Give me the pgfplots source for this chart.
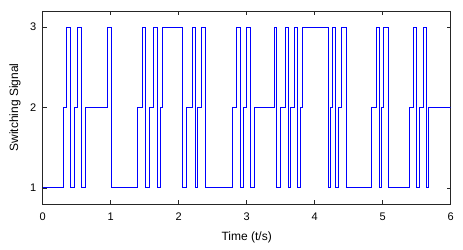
\documentclass[border=0pt]{standalone}
\usepackage{pgfplots}
\pgfplotsset{compat=1.18}
\usepackage{fontspec}
\setmainfont{Liberation Sans}
\begin{document}
\begin{tikzpicture}
\begin{axis}[
  scale only axis,
  width=408pt, height=193pt,
  xmin=0, xmax=6, ymin=0.8, ymax=3.2,
  xtick={0,1,2,3,4,5,6}, ytick={1,2,3},
  tick align=inside,
  tick pos=both,
  major tick length=4pt,
  axis line style={draw=black!85, line width=0.6pt},
  every tick/.style={black!85, line width=0.5pt},
  tick label style={font=\fontsize{11}{13}\selectfont},
  xticklabel style={yshift=-5.5pt},
  yticklabel style={xshift=-3pt},
  label style={font=\fontsize{12}{14}\selectfont},
  /pgf/number format/assume math mode=true,
  xlabel={Time (t/s)},
  ylabel={Switching Signal},
  xlabel style={at={(axis description cs:0.5,-0.171)}, anchor=center},
  ylabel style={at={(axis description cs:-0.0679,0.5)}, anchor=center},
]
\addplot[const plot, blue, line width=0.9pt] coordinates {
(0,1) (0.309,2) (0.353,3) (0.406,1) (0.470,2) (0.514,3) (0.568,1) (0.622,2)
(0.955,3) (1.010,1) (1.397,2) (1.460,3) (1.510,1) (1.563,2) (1.622,3) (1.681,1)
};
\addplot[const plot, blue, line width=0.9pt] coordinates {
(1.681,1) (1.725,2) (1.760,3) (2.059,1) (2.112,2) (2.206,3) (2.245,1) (2.274,2) (2.333,3)
(2.397,1) (2.794,2) (2.853,3) (2.912,1) (2.950,2) (3.000,3) (3.049,1)
};
\addplot[const plot, blue, line width=0.9pt] coordinates {
(3.049,1) (3.107,2)
(3.412,3) (3.435,1) (3.500,2) (3.568,3) (3.607,1) (3.641,2) (3.706,3) (3.744,1)
(3.784,2) (3.824,3) (4.200,1) (4.225,2) (4.260,3) (4.300,1) (4.347,2) (4.396,3) (4.460,1)
};
\addplot[const plot, blue, line width=0.9pt] coordinates {
(4.460,1) (4.838,2) (4.912,3) (4.946,1) (4.985,2) (5.010,3) (5.082,1) (5.390,2)
(5.450,3) (5.500,1) (5.534,2) (5.597,3) (5.637,1) (5.670,2) (6.000,2)
};
\end{axis}
\pgfresetboundingbox
\path (current axis.south west) ++(-42.7pt,-46pt);
\path (current axis.north east) ++(12.3pt,11pt);
\end{tikzpicture}
\end{document}
